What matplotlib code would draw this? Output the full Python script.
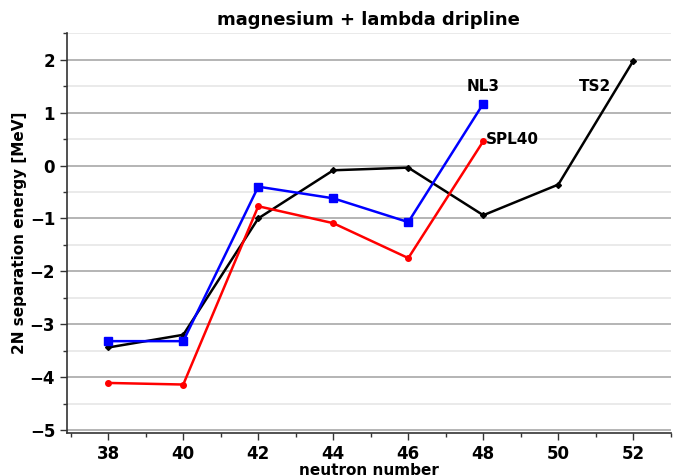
import matplotlib
matplotlib.use('Agg')
import matplotlib.pyplot as plt
from matplotlib.ticker import MultipleLocator

plt.rcParams['font.family'] = 'DejaVu Sans'
plt.rcParams['font.weight'] = 'bold'

neutrons_ts2 = [38, 40, 42, 44, 46, 48, 50, 52]
s2n_ts2 = [-3.44, -3.20, -1.00, -0.09, -0.04, -0.94, -0.36, 1.98]

neutrons_nl3 = [38, 40, 42, 44, 46, 48]
s2n_nl3 = [-3.32, -3.32, -0.40, -0.62, -1.07, 1.17]

neutrons_spl40 = [38, 40, 42, 44, 46, 48]
s2n_spl40 = [-4.11, -4.14, -0.77, -1.09, -1.75, 0.46]

fig = plt.figure(figsize=(6.8, 4.75), dpi=100)
ax = fig.add_axes([0.0985, 0.088, 0.888, 0.842])

ax.plot(neutrons_ts2, s2n_ts2, color='black', marker='D', markersize=3, lw=1.8, zorder=3)
ax.plot(neutrons_nl3, s2n_nl3, color='blue', marker='s', markersize=5.5, lw=1.8, zorder=4)
ax.plot(neutrons_spl40, s2n_spl40, color='red', marker='o', markersize=4, lw=1.8, zorder=4)

ax.text(48.0, 1.49, 'NL3', ha='center', va='center', fontsize=11, fontweight='bold')
ax.text(48.08, 0.5, 'SPL40', ha='left', va='center', fontsize=11, fontweight='bold')
ax.text(50.99, 1.49, 'TS2', ha='center', va='center', fontsize=11, fontweight='bold')

ax.set_xlim(36.9, 53)
ax.set_ylim(-5.06, 2.5)
ax.xaxis.set_major_locator(MultipleLocator(2))
ax.xaxis.set_minor_locator(MultipleLocator(1))
ax.yaxis.set_major_locator(MultipleLocator(1))
ax.yaxis.set_minor_locator(MultipleLocator(0.5))

ax.grid(axis='y', which='major', color='#a8a8a8', lw=1.2, zorder=0)
ax.grid(axis='y', which='minor', color='#e6e6e6', lw=1.2, zorder=0)
ax.set_axisbelow(True)

for side in ['top', 'right']:
    ax.spines[side].set_visible(False)
for side in ['left', 'bottom']:
    ax.spines[side].set_color('#333333')
    ax.spines[side].set_linewidth(1.2)

ax.tick_params(axis='both', which='major', labelsize=12, length=5, width=1, color='#333333')
ax.tick_params(axis='both', which='minor', length=3, width=1, color='#333333')
for lab in ax.get_xticklabels() + ax.get_yticklabels():
    lab.set_fontweight('bold')

ax.set_title('magnesium + lambda dripline', fontsize=13, fontweight='bold', pad=6)
ax.set_xlabel('neutron number', fontsize=11, fontweight='bold', labelpad=0)
ax.set_ylabel('2N separation energy [MeV]', fontsize=11, fontweight='bold', labelpad=2)

fig.savefig('out.png', dpi=100)
